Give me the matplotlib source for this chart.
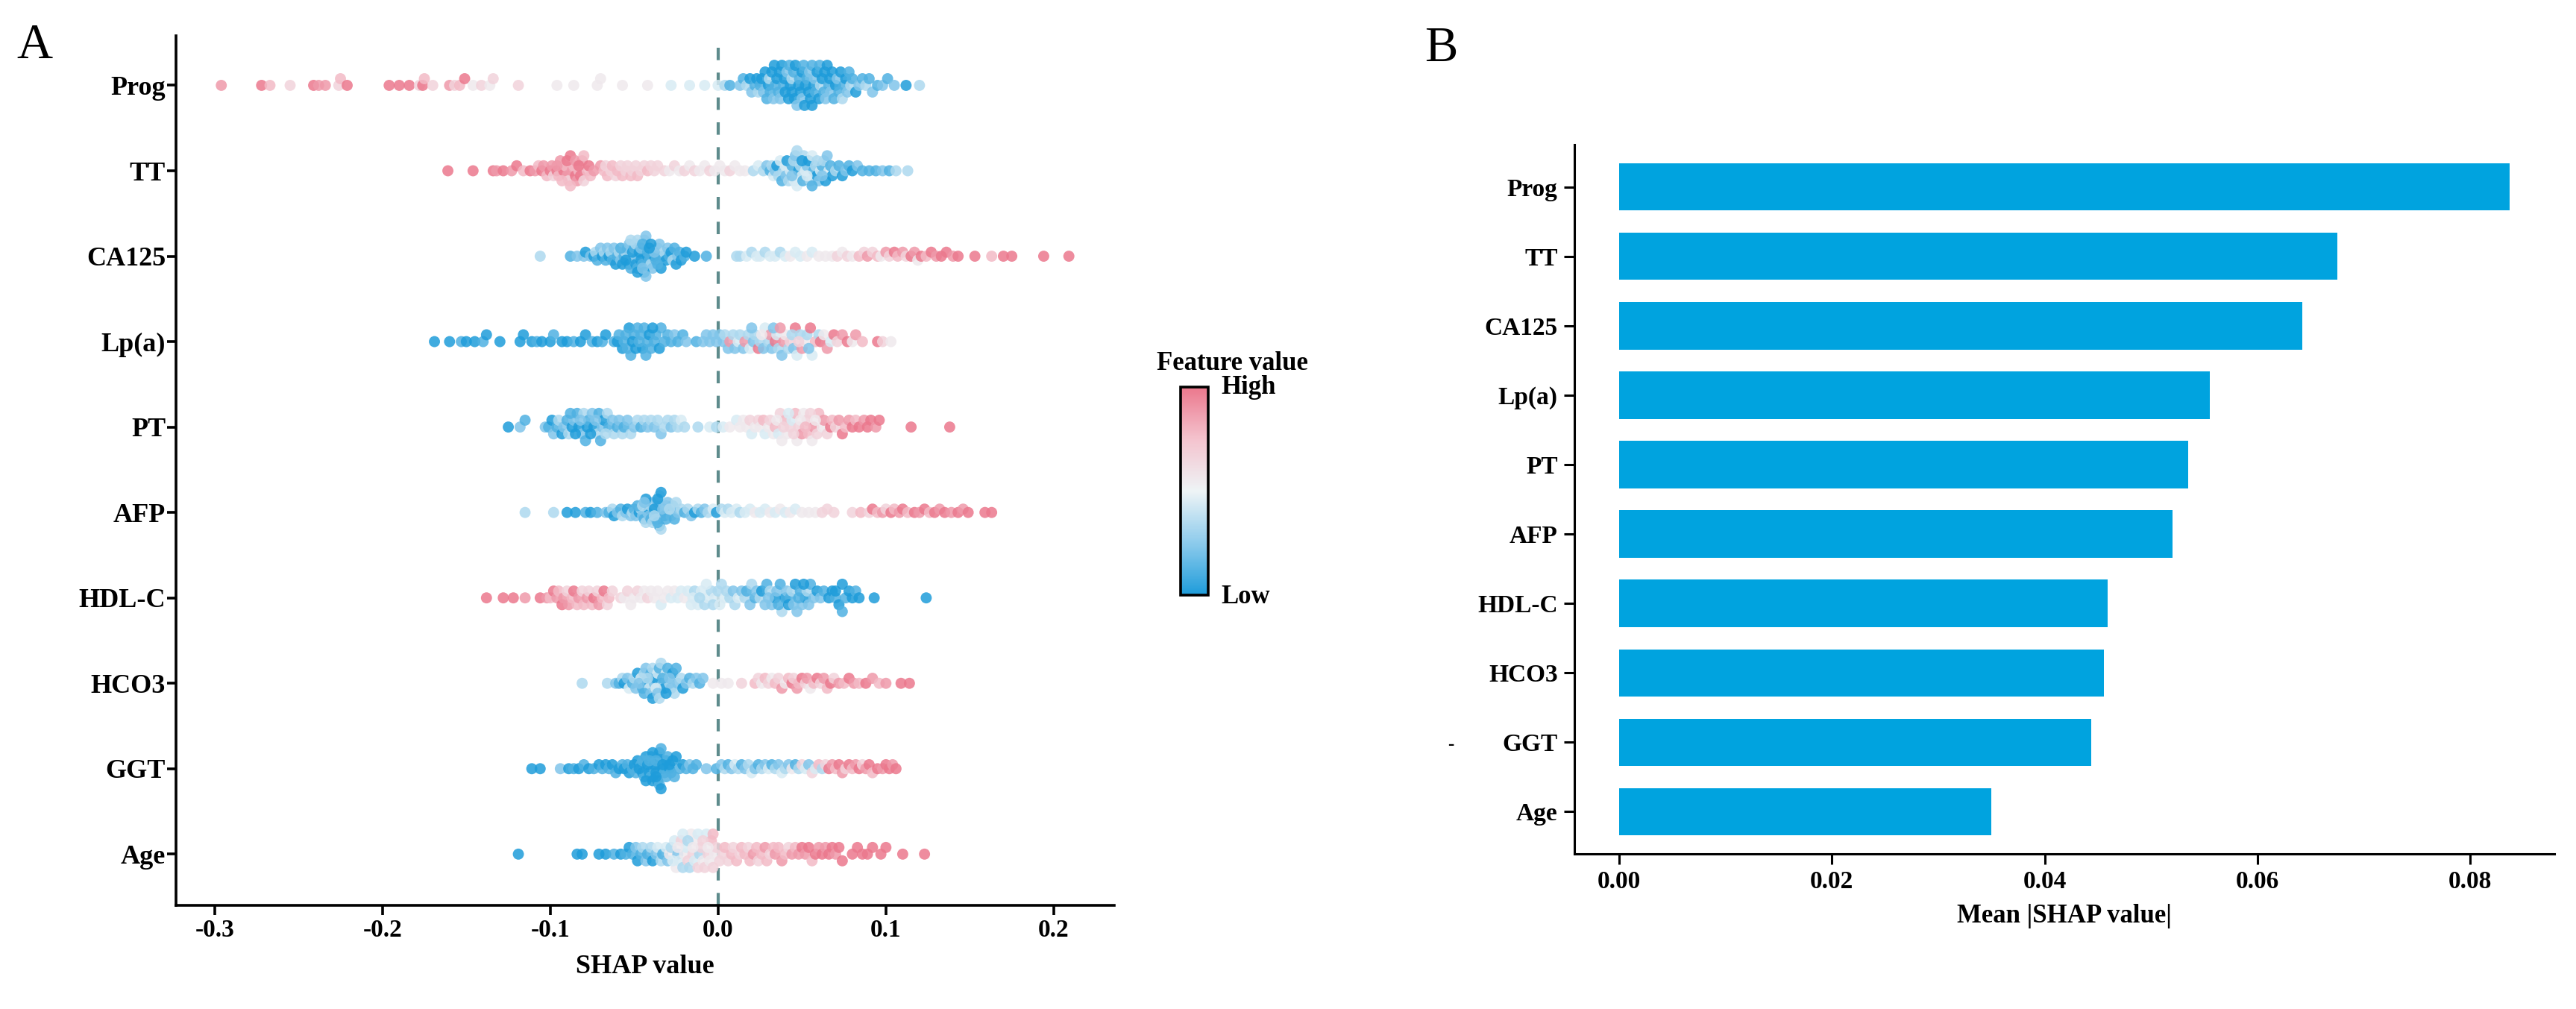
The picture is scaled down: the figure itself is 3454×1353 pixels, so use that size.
import numpy as np
import matplotlib
matplotlib.use('Agg')
import matplotlib.pyplot as plt
from matplotlib.colors import LinearSegmentedColormap, Normalize
from matplotlib.cm import ScalarMappable

plt.rcParams['font.family'] = ['Liberation Serif', 'DejaVu Serif']
plt.rcParams['font.weight'] = 'bold'
plt.rcParams['axes.unicode_minus'] = False

features = ['Prog', 'TT', 'CA125', 'Lp(a)', 'PT', 'AFP', 'HDL-C', 'HCO3', 'GGT', 'Age']
mean_abs_shap = [0.0837, 0.0675, 0.0642, 0.0555, 0.0535, 0.0520, 0.0459, 0.0456, 0.0444, 0.0350]

# (SHAP value x1000, feature value 0..9)
prog = [(-296,8),(-272,9),(-267,7),(-255,6),(-241,9),(-238,8),(-234,8),(-226,6),(-225,7),(-221,9),
        (-196,9),(-190,9),(-184,9),(-178,6),(-176,9),(-175,7),(-170,6),(-160,8),(-157,6),(-154,7),
        (-151,9),(-146,5),(-141,6),(-136,5),(-134,6),(-119,6),(-96,5),(-86,5),(-72,5),(-70,5),
        (-57,5),(-42,5),(-28,4),(-17,4),(-8,4),(0,4),(4,3),(7,1),
        (13,2),(15,1),(17,3),(19,0),(20,2),(22,1),(23,0),(24,3),(25,1),(26,0),
        (27,2),(28,0),(29,1),(30,0),(30.5,3),(31,1),(32,0),(33,2),(33.5,0),(34,1),
        (35,0),(36,1),(36.5,0),(37,2),(38,0),(39,1),(39.5,0),(40,0),(41,2),(42,0),
        (42.5,1),(43,0),(44,3),(44,0),(45,1),(45.5,0),(46,0),(47,2),(48,0),(48.5,1),
        (49,0),(50,0),(50,2),(51,1),(51.5,0),(52,0),(53,1),(54,0),(54.5,2),(55,0),
        (56,1),(56,0),(57,0),(57.5,2),(58,1),(59,0),(60,0),(60.5,1),(61,3),(62,0),
        (63,1),(63.5,0),(64,2),(65,0),(66,1),(66.5,0),(67,2),(68,0),(69,1),(70,0),
        (71,2),(72,1),(73,0),(74,3),(75,1),(76,0),(77,2),(78,1),(79,3),(80,1),
        (82,0),(84,2),(86,1),(88,3),(90,1),(92,2),(95,1),(98,2),(101,1),(105,2),(112,0),(120,3)]

tt = [(-161,9),(-146,9),(-134,9),(-132,8),(-128,9),(-123,8),(-120,9),(-116,7),(-112,9),
      (-109,8),(-107,7),(-105,9),(-104,8),(-102,7),(-100,9),(-99,8),(-98,6),(-96,9),(-95,7),
      (-94,8),(-92,9),(-91,7),(-90,8),(-89,6),(-88,9),(-87,8),(-86,7),(-85,9),(-84,8),
      (-83,7),(-82,9),(-81,8),(-80,6),(-78,7),(-77,9),(-76,7),(-74,8),
      (-96,8),(-93,7),(-90,9),(-88,7),(-85,8),(-83,9),(-80,7),
      (-70,8),(-68,7),(-67,6),(-66,7),(-64,6),(-63,7),(-61,6),(-60,7),(-58,6),(-57,7),
      (-55,6),(-54,6),(-52,7),(-51,6),(-49,6),(-48,7),(-46,6),(-44,6),(-42,7),(-40,6),(-38,6),(-36,6),
      (-32,6),(-29,5),(-26,6),(-23,5),(-20,6),(-17,5),(-14,6),(-11,5),(-8,5),(-5,6),(-2,5),
      (1,5),(4,5),(7,6),(10,5),(13,5),(16,5),
      (21,3),(24,4),(27,3),(29,2),
      (31,1),(32,3),(33,4),(34,2),(35,0),(36,3),(37,4),(38,1),(39,3),(40,4),(40.5,2),(41,0),
      (42,3),(43,4),(44,1),(45,3),(45.5,4),(46,2),(47,4),(48,0),(49,3),(50,4),(50.5,1),(51,3),
      (52,4),(53,2),(54,0),(55,3),(56,4),(57,1),(58,3),(59,0),(60,2),(61,4),(62,1),(63,3),
      (64,0),(65,2),(66,4),(67,1),(68,0),(70,3),(72,1),(74,0),(76,2),(78,1),(80,0),(83,2),(86,1),
      (44,2),(47,3),(50,0),(53,4),(56,1),(59,3),(62,2),
      (90,1),(94,1),(98,2),(102,1),(106,3),(113,3)]

ca125 = [(-106,3),(-88,1),(-84,2),(-80,2),(-79,0),
         (-76,2),(-74,0),(-73,3),(-72,1),(-70,2),(-69,0),(-68,3),(-67,1),(-66,2),(-65,0),
         (-64,3),(-63,1),(-62,2),(-61,0),(-60,1),(-59,3),(-58,2),(-57,0),(-56,1),(-55,3),
         (-54,2),(-53,0),(-52,1),(-51,3),(-50,2),(-49,0),(-48,1),(-48,3),(-47,2),(-46,0),
         (-45,1),(-44,3),(-43,2),(-42,0),(-41,1),(-40,3),(-39,2),(-38,0),(-37,1),(-36,3),
         (-35,2),(-34,0),(-33,1),(-32,3),(-31,0),(-30,2),(-29,1),(-28,0),(-27,3),(-26,1),
         (-25,0),(-24,2),(-23,1),(-22,0),(-20,1),(-19,0),
         (-58,1),(-55,0),(-53,2),(-51,0),(-50,1),(-49,3),(-47,0),(-46,2),(-45,1),(-44,0),
         (-43,2),(-42,1),(-40,0),(-38,2),(-36,1),(-52,3),(-48,0),(-45,2),(-41,0),
         (-14,0),(-7,1),
         (11,3),(13,3),(17,4),(20,3),(23,4),(25,4),(28,3),(31,4),(34,4),(37,3),(40,4),(43,5),
         (46,4),(49,4),(53,5),(56,4),
         (60,5),(64,5),(68,5),(71,6),(74,5),(77,6),(80,5),
         (84,7),(87,6),(89,8),(92,6),(95,7),(97,5),(100,8),(102,6),(105,9),(107,7),(110,8),
         (112,6),(115,9),(117,8),(119,5),(121,9),(124,7),(127,9),(130,8),(133,9),(136,9),
         (140,8),(143,9),(153,9),(163,7),(170,9),(175,9),(194,9),(209,9)]

lpa = [(-169,0),(-160,0),(-153,1),(-150,0),(-145,0),(-140,1),(-138,0),(-130,0),(-118,0),(-116,0),
       (-111,0),(-108,1),(-105,0),(-100,0),(-98,1),(-93,0),(-90,0),(-86,1),(-82,0),(-79,0),
       (-75,1),(-72,0),(-69,1),(-67,0),
       (-62,1),(-60,0),(-59,1),(-57,0),(-56,1),(-54,1),(-53,0),(-52,1),(-50,1),(-49,0),
       (-48,1),(-46,1),(-45,0),(-44,1),(-42,1),(-41,0),(-40,1),(-38,1),(-37,1),(-35,0),
       (-34,1),(-32,1),(-55,1),(-51,0),(-47,1),(-43,1),(-39,0),
       (-30,1),(-28,1),(-26,2),(-24,1),(-21,1),(-19,2),(-13,1),(-9,2),(-7,2),(-5,2),(-3,2),(-1,2),
       (1,2),(3,2),(4,3),(6,2),(7,8),(9,3),(10,2),(12,4),(13,3),(15,2),(16,8),(18,3),(19,4),
       (21,2),(22,3),(24,9),(25,3),(27,2),(28,4),(30,3),(31,8),(32,2),(34,9),(35,4),(36,3),
       (38,2),(39,8),(40,5),(42,3),(43,6),(45,2),(46,9),(47,4),(49,3),(50,8),(52,5),(53,3),
       (55,9),(56,4),(58,7),(60,3),(61,9),(63,5),(65,8),(67,4),(69,9),(71,6),(74,8),(77,9),
       (80,5),(82,8),(20,2),(26,5),(33,2),(37,8),(44,3),(48,6),(54,2),(86,7),(95,9),(98,6),(103,5)]

pt = [(-125,0),(-118,2),(-115,1),
      (-103,2),(-101,1),(-99,0),(-98,2),(-96,1),(-95,3),(-93,0),(-92,2),(-90,1),(-89,3),
      (-87,0),(-86,2),(-84,1),(-83,0),(-81,2),(-80,3),(-78,0),(-77,1),(-75,2),(-74,0),
      (-72,3),(-71,1),(-69,2),(-68,0),(-66,3),(-65,1),(-63,2),(-62,3),(-60,1),(-59,2),
      (-57,3),(-56,1),(-54,2),(-52,3),(-50,2),(-48,3),(-46,1),(-44,3),(-42,2),(-40,3),
      (-38,2),(-36,3),(-34,2),(-32,3),(-30,3),(-28,2),(-26,3),(-24,3),(-22,4),(-20,3),
      (-88,1),(-85,0),(-82,2),(-79,1),(-76,0),(-73,2),(-70,1),(-67,3),
      (-12,3),(-5,4),(-1,3),(3,4),(7,5),(11,4),(13,5),(15,5),
      (17,5),(19,6),(20,4),(22,5),(24,6),(25,5),(27,7),(28,4),(30,5),(31,6),(33,5),(34,7),
      (36,4),(37,6),(38,5),(40,7),(41,5),(43,6),(44,4),(46,7),(47,5),(48,6),(50,8),(51,5),
      (53,6),(54,7),(56,5),(57,8),(59,6),(60,7),(62,5),(63,8),(65,6),(67,9),(68,7),(70,6),
      (72,8),(74,9),(76,7),(78,8),(80,9),(82,7),(84,9),(87,8),(89,9),(91,9),(94,8),(96,9),
      (35,5),(39,6),(42,4),(45,6),(49,5),(52,7),(55,6),(58,5),
      (115,9),(138,9)]

afp = [(-115,3),(-98,3),(-90,0),(-85,0),(-79,1),(-76,0),(-72,1),
       (-67,2),(-65,1),(-63,3),(-62,0),(-60,2),(-58,1),(-57,3),(-55,2),(-54,0),(-52,2),
       (-51,3),(-50,1),(-49,2),(-47,0),(-46,3),(-45,2),(-44,1),(-43,3),(-42,2),(-41,0),
       (-40,3),(-39,2),(-38,1),(-37,3),(-36,2),(-35,0),(-34,3),(-33,2),(-32,1),(-31,3),
       (-30,2),(-29,0),(-28,3),(-27,2),(-26,1),(-25,3),(-24,2),(-22,3),(-20,1),(-18,3),
       (-16,2),(-14,0),(-12,3),(-10,1),(-8,2),(-6,3),(-3,4),(-1,0),
       (-48,1),(-45,3),(-43,0),(-41,2),(-40,1),(-39,3),(-38,0),(-37,2),(-36,1),(-35,3),
       (-34,0),(-33,2),(-31,1),(-29,3),(-44,2),(-38,3),(-36,0),
       (2,3),(4,4),(6,3),(8,4),(11,4),(13,3),(16,4),(19,4),(22,5),(25,4),(28,4),(31,5),
       (34,4),(37,5),(40,4),(43,5),(46,4),(50,5),(54,5),(58,5),(62,6),(65,6),(69,6),
       (80,6),(85,7),(90,6),(92,9),(95,7),(98,8),(100,6),(103,9),(105,7),(108,8),(110,9),
       (113,7),(117,9),(120,8),(123,9),(126,7),(129,9),(132,8),(135,9),(139,8),(143,9),
       (146,8),(149,9),(159,9),(163,9)]

hdl = [(-138,9),(-128,9),(-122,9),(-115,8),(-106,9),
       (-102,8),(-100,7),(-98,9),(-96,8),(-95,7),(-93,9),(-92,8),(-90,6),(-89,8),(-87,7),
       (-86,9),(-84,7),(-83,8),(-81,6),(-80,7),(-78,8),(-77,6),(-75,7),(-74,9),(-72,6),
       (-71,8),(-69,7),(-68,9),(-66,6),(-65,7),(-63,6),
       (-58,6),(-56,5),(-54,6),(-52,5),(-50,5),(-48,6),(-46,5),(-44,5),(-42,6),(-40,5),
       (-38,5),(-36,5),(-34,4),(-32,5),(-30,5),(-28,4),(-26,5),(-24,4),
       (-22,4),(-20,5),(-18,4),(-16,4),(-14,3),(-12,4),(-10,4),(-8,3),(-6,4),(-4,3),(-2,4),(0,3),
       (-15,4),(-11,3),(-7,4),(-3,3),(1,4),
       (2,3),(4,4),(5,3),(7,3),(9,2),(10,3),(12,4),(14,2),(16,3),(17,1),(19,2),(20,3),
       (22,1),(23,2),(25,3),(26,0),(28,2),(29,1),(31,3),(32,2),(34,0),(35,2),(37,1),(38,3),
       (40,0),(41,2),(43,1),(44,3),(46,0),(47,2),(49,1),(50,2),(52,0),(53,3),(55,1),(57,2),
       (59,0),(61,2),(63,1),(66,0),(68,0),(70,1),(72,0),(74,0),(76,1),(78,0),(80,0),(82,1),(84,0),
       (30,2),(36,1),(42,0),(45,2),(48,1),(51,0),(54,2),(70,0),(74,1),
       (93,0),(124,0)]

hco3 = [(-81,3),(-66,3),
        (-61,2),(-59,1),(-57,3),(-56,0),(-54,2),(-53,4),(-51,1),(-50,3),(-49,2),(-48,0),
        (-46,4),(-45,1),(-44,3),(-43,2),(-42,0),(-41,4),(-40,1),(-39,3),(-38,2),(-37,0),
        (-36,4),(-35,1),(-34,3),(-33,2),(-32,0),(-31,4),(-30,1),(-29,3),(-28,2),(-27,0),
        (-26,3),(-25,1),(-24,2),(-22,3),(-21,0),(-19,2),(-17,1),(-15,3),(-13,2),(-11,1),(-9,2),
        (-47,2),(-44,1),(-42,3),(-40,2),(-39,0),(-37,4),(-36,2),(-35,3),(-33,1),(-31,0),(-29,2),
        (-3,5),(2,5),(6,5),(14,6),
        (22,7),(24,6),(26,5),(28,7),(30,6),(32,5),(34,7),(36,6),(38,8),(40,5),(42,7),(44,9),
        (45,6),(47,8),(48,7),(50,9),(52,6),(53,8),(55,5),(57,7),(59,9),(61,6),(63,8),(65,7),
        (67,9),(69,6),(72,8),(75,7),(78,9),(81,8),(84,7),(88,9),(92,8),(96,7),(100,8),
        (109,9),(114,9)]

ggt = [(-111,0),(-106,0),(-94,2),(-89,0),(-86,1),(-83,0),(-80,1),(-77,0),(-74,1),(-71,0),(-69,1),
       (-67,0),(-65,1),(-63,0),(-61,1),(-59,0),(-57,1),(-56,0),(-54,1),(-53,0),(-51,1),
       (-50,0),(-49,1),(-48,0),(-46,1),(-45,0),(-44,1),(-43,0),(-42,1),(-41,0),(-40,1),
       (-39,0),(-38,1),(-37,0),(-36,1),(-35,0),(-34,1),(-33,0),(-32,1),(-31,0),(-30,1),
       (-29,0),(-28,1),(-27,0),(-26,1),(-25,0),(-23,1),(-21,0),(-19,1),(-17,2),(-15,1),(-13,1),
       (-47,0),(-45,1),(-43,0),(-42,0),(-40,1),(-39,0),(-38,0),(-37,1),(-36,0),(-35,1),
       (-34,0),(-33,0),(-31,1),(-29,0),(-41,1),(-37,0),
       (-7,2),(-1,1),
       (2,2),(4,3),(6,1),(8,2),(10,4),(12,3),(14,1),(16,2),(18,3),(20,4),(22,2),(24,1),
       (26,3),(28,2),(30,4),(32,1),(34,3),(36,2),(38,4),(40,3),(42,2),(44,5),(46,1),(48,3),
       (50,6),(52,4),(54,2),(56,6),(58,4),(60,7),(62,3),(64,6),
       (66,9),(68,8),(70,7),(72,9),(74,8),(76,6),(78,9),(80,7),(82,8),(84,9),(86,6),(88,8),
       (90,9),(92,7),(95,9),(98,8),(100,9),(102,9),(104,8),(106,9)]

age = [(-119,0),(-84,0),(-81,0),(-71,0),(-67,0),(-62,1),(-58,0),(-55,1),(-53,0),
       (-51,1),(-49,2),(-48,0),(-46,1),(-45,3),(-43,2),(-42,1),(-40,3),(-39,0),(-37,2),
       (-36,4),(-34,3),(-33,1),(-31,4),(-30,2),(-29,5),(-28,3),(-26,4),(-25,5),(-24,2),
       (-23,4),(-22,6),(-21,3),(-20,5),(-19,4),(-18,6),(-17,3),(-16,5),(-15,6),(-14,4),
       (-13,5),(-12,6),(-11,3),(-10,6),(-9,5),(-8,6),(-7,4),(-6,6),(-5,5),(-4,7),(-3,6),
       (-2,5),(-1,6),(-27,4),(-24,5),(-21,4),(-18,3),(-15,5),(-12,4),(-9,6),(-6,5),(-3,7),
       (1,6),(3,6),(4,7),(6,6),(8,7),(9,6),(11,7),(13,6),(14,7),(16,7),(18,6),(19,7),
       (21,8),(23,7),(24,6),(26,7),(28,8),(29,7),(31,6),(33,7),(34,8),(36,7),(38,8),(40,7),
       (42,6),(44,8),(46,7),(48,8),(50,9),(52,8),(54,9),(56,7),(58,9),(60,8),(62,9),(64,8),
       (66,9),(68,9),(70,8),(72,9),(74,9),
       (80,9),(83,9),(86,9),(89,9),(92,9),(97,9),(100,9),(110,9),(123,9)]

rows = [prog, tt, ca125, lpa, pt, afp, hdl, hco3, ggt, age]

cmap = LinearSegmentedColormap.from_list(
    'shap_bw', ['#1E9CDA', '#8DCBEC', '#EEF4F6', '#F4C3CE', '#EB788D'])


def swarm(vals, binw=0.0045, step=0.08, half=0.235):
    # shap-style beeswarm stacking
    order = np.argsort(vals, kind='stable')
    q = np.round(vals / binw)
    ys = np.zeros(len(vals))
    layer, last = 0, None
    for i in order:
        if q[i] != last:
            layer = 0
        ys[i] = np.ceil(layer / 2) * ((layer % 2) * 2 - 1)
        layer += 1
        last = q[i]
    m = max(np.abs(ys).max(), 1)
    return ys * min(step, half / m)


fig = plt.figure(figsize=(34.55, 13.53), dpi=100)

# ---------------- panel A ----------------
ax = fig.add_axes([0.0683, 0.1027, 0.3641, 0.8618])
n = len(features)
for k, row in enumerate(rows):
    arr = np.array(row, dtype=float)
    sv = arr[:, 0] / 1000.0
    fv = arr[:, 1] / 9.0
    y = (n - 1 - k) + swarm(sv)
    ax.scatter(sv, y, c=fv, cmap=cmap, vmin=0, vmax=1, s=115, alpha=0.85,
               edgecolors='none', zorder=3)

ax.axvline(0, color='#5E8B8C', lw=3.0, ls=(0, (4, 4)), zorder=2)
ax.set_xlim(-0.323, 0.236)
ax.set_ylim(-0.6, n - 1 + 0.58)
ax.set_yticks(range(n))
ax.set_yticklabels(features[::-1], fontsize=26, fontweight='bold')
ax.set_xticks([-0.3, -0.2, -0.1, 0.0, 0.1, 0.2])
ax.set_xticklabels(['-0.3', '-0.2', '-0.1', '0.0', '0.1', '0.2'], fontsize=24, fontweight='bold')
ax.set_xlabel('SHAP value', fontsize=26, fontweight='bold', labelpad=12)
for s in ['top', 'right']:
    ax.spines[s].set_visible(False)
for s in ['left', 'bottom']:
    ax.spines[s].set_linewidth(2.6)
ax.tick_params(axis='both', width=2.6, length=9, pad=4)
ax.tick_params(axis='y', pad=1)

# colour bar
cax = fig.add_axes([0.4582, 0.4102, 0.0107, 0.2062])
cb = fig.colorbar(ScalarMappable(norm=Normalize(0, 1), cmap=cmap), cax=cax)
cb.set_ticks([])
cb.outline.set_linewidth(2.6)
fig.text(0.4784, 0.640, 'Feature value', ha='center', va='center', fontsize=25, fontweight='bold')
fig.text(0.4738, 0.6157, 'High', ha='left', va='center', fontsize=25, fontweight='bold')
fig.text(0.4738, 0.4085, 'Low', ha='left', va='center', fontsize=25, fontweight='bold')

# ---------------- panel B ----------------
bx = fig.add_axes([0.611, 0.1537, 0.3803, 0.7029])
bx.barh(range(n), mean_abs_shap[::-1], height=0.68, color='#00A3DF')
bx.set_xlim(-0.0042, 0.0879)
bx.set_ylim(-0.61, n - 1 + 0.61)
bx.set_yticks(range(n))
bx.set_yticklabels(features[::-1], fontsize=24, fontweight='bold')
bx.set_xticks([0.0, 0.02, 0.04, 0.06, 0.08])
bx.set_xticklabels(['0.00', '0.02', '0.04', '0.06', '0.08'], fontsize=24, fontweight='bold')
bx.set_xlabel('Mean |SHAP value|', fontsize=25, fontweight='bold', labelpad=10)
for s in ['top', 'right']:
    bx.spines[s].set_visible(False)
for s in ['left', 'bottom']:
    bx.spines[s].set_linewidth(2.2)
bx.tick_params(axis='both', width=2.2, length=10, pad=6)
fig.text(0.5630, 0.2617, '-', ha='center', va='center', fontsize=18, fontweight='bold')

fig.text(0.0064, 0.977, 'A', ha='left', va='top', fontsize=48, fontweight='normal')
fig.text(0.5528, 0.974, 'B', ha='left', va='top', fontsize=48, fontweight='normal')

fig.savefig('out.png', dpi=100)
